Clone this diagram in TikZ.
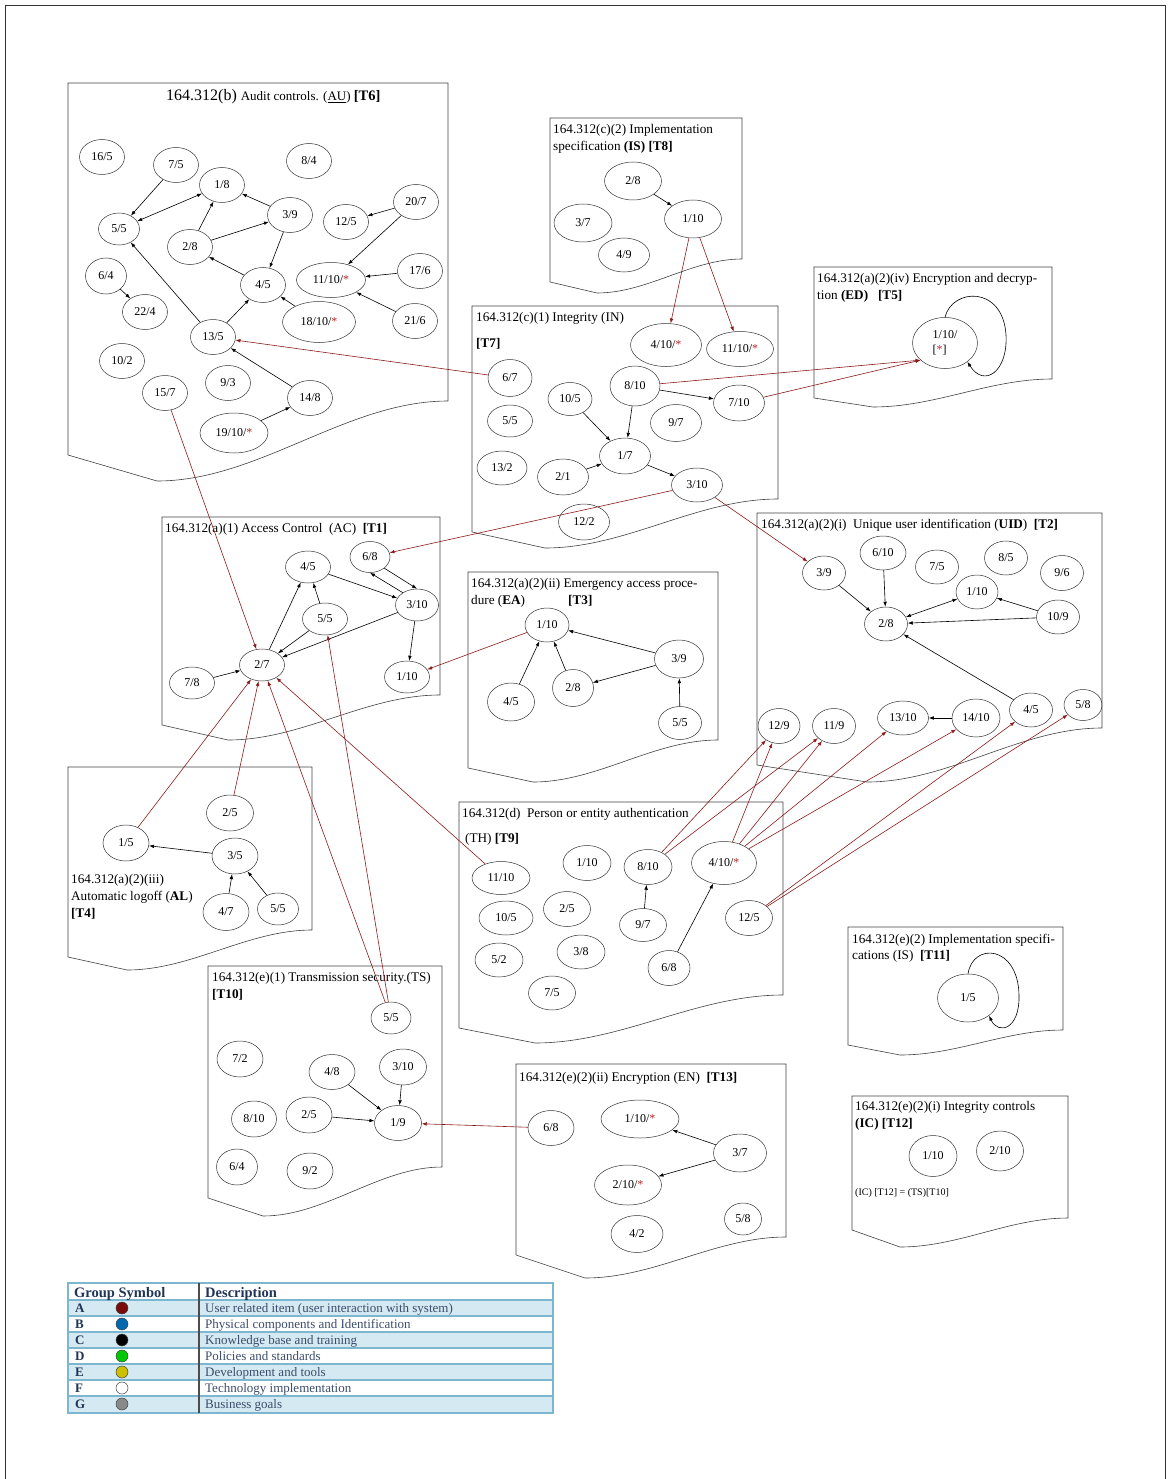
\documentclass[tikz,border=0pt]{standalone}
\usepackage{fontspec}
\setmainfont{Liberation Serif}
\usetikzlibrary{arrows.meta,shapes.geometric}

\definecolor{linkred}{HTML}{8B1A1A}
\definecolor{astred}{HTML}{B0282A}
\definecolor{rowblue}{HTML}{D4E9F1}
\definecolor{rulblue}{HTML}{7DB6CF}
\definecolor{navy}{HTML}{1F3557}
\definecolor{desc}{HTML}{3C4C6C}

% red asterisk used in node labels
\newcommand\rast{\textcolor{astred}{*}}
% framed area with a wavy lower edge: L, T, R, y right-bottom, y left-bottom, trough x, trough y
\newcommand\docbox[7]{\draw[boxline] (#1,#5) -- (#1,#2) -- (#3,#2) -- (#3,#4)
  .. controls ({#3-0.35*(#3-#6)},#4) and ({#6+0.35*(#3-#6)},#7) .. (#6,#7) -- cycle;}

\begin{document}
\begin{tikzpicture}[x=1pt,y=-1pt,
  nd/.style={draw=black!80, ellipse, inner sep=0pt, minimum width=45pt, minimum height=35pt,
             line width=0.5pt, font=\fontsize{12}{13}\selectfont},
  sz/.style 2 args={minimum width=#1pt, minimum height=#2pt},
  bl/.style={draw=black, line width=0.6pt, -{Latex[length=5pt,width=3.6pt]}},
  rl/.style={draw=linkred, line width=0.6pt, -{Latex[length=5pt,width=3.6pt]}},
  ttl/.style={anchor=base west, inner sep=0pt, font=\fontsize{13.2}{15}\selectfont},
  boxline/.style={draw=black!75, line width=0.6pt},
  lgl/.style={anchor=base west, inner sep=0pt, text=navy, font=\fontsize{13}{15}\selectfont\bfseries},
  lgd/.style={anchor=base west, inner sep=0pt, text=desc, font=\fontsize{13}{15}\selectfont},
  dot/.style={circle, draw=black!75, line width=0.5pt, minimum size=12pt, inner sep=0pt}]
\useasboundingbox (0,0) rectangle (1168,1479);

% page frame
\draw[black!80, line width=0.8pt] (5,1479) -- (5,5) -- (1165,5) -- (1165,1479);

% ---------------- framed areas ----------------
\docbox{68}{83}{448}{401}{455}{157}{481}
\docbox{550}{118}{742}{259}{282}{597}{293}
\docbox{814}{267}{1052}{379}{398}{873}{407}
\docbox{472}{306}{778}{499}{532}{545}{548}
\docbox{162}{517}{440}{695}{725}{228}{740}
\docbox{468}{572}{718}{740}{768}{533}{782}
\docbox{757}{513}{1102}{728}{765}{867}{782}
\docbox{68}{767}{312}{930}{957}{127}{970}
\docbox{459}{802}{783}{995}{1028}{535}{1043}
\docbox{208}{966}{442}{1167}{1198}{263}{1216}
\docbox{516}{1064}{786}{1237}{1255}{585}{1278}
\docbox{848}{927}{1063}{1030}{1045}{900}{1055}
\docbox{852}{1096}{1068}{1218}{1230}{900}{1247}

% ---------------- titles ----------------
\node[anchor=base west, inner sep=0pt] (t6title) at (166,101)
  {\fontsize{16}{18}\selectfont 164.312(b) \fontsize{13}{15}\selectfont Audit controls. (\underline{AU}) \fontsize{14.5}{17}\selectfont\textbf{[T6]}};
\node[ttl] (t8title1) at (553,133.5) {164.312(c)(2) Implementation};
\node[ttl] (t8title2) at (553,150.5) {specification \textbf{(IS) [T8]}};
\node[ttl] (t5title1) at (817,282.5) {164.312(a)(2)(iv) Encryption and decryp-};
\node[ttl] (t5title2) at (817,299.5) {tion \textbf{(ED)}\ \ \ \textbf{[T5]}};
\node[ttl] (t7title1) at (476,321.5) {164.312(c)(1) Integrity (IN)};
\node[ttl] (t7title2) at (476,347.5) {\textbf{[T7]}};
\node[ttl] (t1title) at (165,532.5) {164.312(a)(1) Access Control\ \ (AC)\ \ \textbf{[T1]}};
\node[ttl] (t3title1) at (471,587.5) {164.312(a)(2)(ii) Emergency access proce-};
\node[ttl] (t3title2) at (471,604.5) {dure (\textbf{EA})};
\node[ttl] (t3title3) at (568,604.5) {\textbf{[T3]}};
\node[ttl] (t2title) at (761,528.5) {164.312(a)(2)(i)\ \ Unique user identification (\textbf{UID})\ \ \textbf{[T2]}};
\node[ttl] (t4title1) at (71,883.5) {164.312(a)(2)(iii)};
\node[ttl] (t4title2) at (71,900.5) {Automatic logoff (\textbf{AL})};
\node[ttl] (t4title3) at (71,917.5) {\textbf{[T4]}};
\node[ttl] (t9title1) at (462,817.5) {164.312(d)\ \ Person or entity authentication};
\node[ttl] (t9title2) at (465,842.5) {(TH) \textbf{[T9]}};
\node[ttl] (t10title1) at (212,981.5) {164.312(e)(1) Transmission security.(TS)};
\node[ttl] (t10title2) at (212,998.5) {\textbf{[T10]}};
\node[ttl] (t11title1) at (852,943.5) {164.312(e)(2) Implementation specifi-};
\node[ttl] (t11title2) at (852,959.5) {cations (IS)\ \ \textbf{[T11]}};
\node[ttl] (t13title) at (519,1081.5) {164.312(e)(2)(ii) Encryption (EN)\ \ \textbf{[T13]}};
\node[ttl] (t12title1) at (855,1110.5) {164.312(e)(2)(i) Integrity controls};
\node[ttl] (t12title2) at (855,1127.5) {\textbf{(IC) [T12]}};
\node[anchor=base west, inner sep=0pt, font=\fontsize{10}{12}\selectfont] (t12note) at (855,1195) {(IC) [T12] = (TS)[T10]};

% ---------------- T6: audit controls ----------------
\node[nd] (t6-16-5) at (102,157) {16/5};
\node[nd] (t6-7-5) at (176,165) {7/5};
\node[nd] (t6-1-8) at (222,185) {1/8};
\node[nd] (t6-8-4) at (309,161) {8/4};
\node[nd, sz={41}{32}] (t6-5-5) at (119,229) {5/5};
\node[nd] (t6-3-9) at (290,215) {3/9};
\node[nd] (t6-20-7) at (416,202) {20/7};
\node[nd] (t6-12-5) at (346,222) {12/5};
\node[nd] (t6-2-8) at (190,247) {2/8};
\node[nd] (t6-4-5) at (263,285) {4/5};
\node[nd, sz={69}{35}] (t6-11-10) at (331,280) {11/10/\rast};
\node[nd] (t6-17-6) at (420,271) {17/6};
\node[nd, sz={41}{36}] (t6-6-4) at (106,276) {6/4};
\node[nd] (t6-22-4) at (145,312) {22/4};
\node[nd, sz={73}{41}] (t6-18-10) at (319,322) {18/10/\rast};
\node[nd] (t6-21-6) at (415,321) {21/6};
\node[nd] (t6-13-5) at (213,337) {13/5};
\node[nd] (t6-10-2) at (122,361) {10/2};
\node[nd] (t6-9-3) at (228,383) {9/3};
\node[nd] (t6-15-7) at (165,393) {15/7};
\node[nd] (t6-14-8) at (310,398) {14/8};
\node[nd, sz={68}{40}] (t6-19-10) at (234,433) {19/10/\rast};

\draw[bl] (t6-7-5) -- (t6-5-5);
\draw[bl, {Latex[length=5pt,width=3.6pt]}-{Latex[length=5pt,width=3.6pt]}] (t6-5-5) -- (t6-1-8);
\draw[bl] (t6-3-9) -- (t6-1-8);
\draw[bl] (t6-2-8) -- (t6-1-8);
\draw[bl] (t6-2-8) -- (t6-3-9);
\draw[bl] (t6-3-9) -- (t6-4-5);
\draw[bl] (t6-4-5) -- (t6-2-8);
\draw[bl] (t6-13-5) -- (t6-5-5);
\draw[bl] (t6-13-5) -- (t6-4-5);
\draw[bl] (t6-18-10) -- (t6-4-5);
\draw[bl] (t6-14-8) -- (t6-13-5);
\draw[bl] (t6-19-10) -- (t6-14-8);
\draw[bl] (t6-6-4) -- (t6-22-4);
\draw[bl] (t6-20-7) -- (t6-12-5);
\draw[bl] (t6-20-7) -- (t6-11-10);
\draw[bl] (t6-17-6) -- (t6-11-10);
\draw[bl] (t6-21-6) -- (t6-11-10);

% ---------------- T8 ----------------
\node[nd, sz={57}{38}] (t8-2-8) at (633,181) {2/8};
\node[nd, sz={58}{38}] (t8-3-7) at (583,223) {3/7};
\node[nd, sz={57}{38}] (t8-1-10) at (693,219) {1/10};
\node[nd, sz={51}{34}] (t8-4-9) at (624,255) {4/9};
\draw[bl] (t8-2-8) -- (t8-1-10);

% ---------------- T5 ----------------
\node[nd, sz={65}{51}, align=left, font=\fontsize{12}{15}\selectfont] (t5-1-10) at (945,343) {1/10/\\{[}\rast{]}};
\draw[bl] (t5-1-10.90) .. controls (952,288) and (1003,285) .. (1006,335)
  .. controls (1008,372) and (984,388) .. (t5-1-10.-40);

% ---------------- T7 ----------------
\node[nd, sz={71}{43}] (t7-4-10) at (666,345) {4/10/\rast};
\node[nd, sz={67}{35}] (t7-11-10) at (740,349) {11/10/\rast};
\node[nd, sz={44}{37}] (t7-6-7) at (510,378) {6/7};
\node[nd, sz={50}{40}] (t7-8-10) at (635,386) {8/10};
\node[nd, sz={44}{33}] (t7-10-5) at (570,399) {10/5};
\node[nd, sz={51}{36}] (t7-7-10) at (739,403) {7/10};
\node[nd, sz={45}{32}] (t7-5-5) at (510,421) {5/5};
\node[nd, sz={51}{37}] (t7-9-7) at (676,423) {9/7};
\node[nd, sz={51}{36}] (t7-1-7) at (625,456) {1/7};
\node[nd, sz={50}{34}] (t7-13-2) at (502,468) {13/2};
\node[nd, sz={51}{36}] (t7-2-1) at (563,477) {2/1};
\node[nd, sz={51}{34}] (t7-3-10) at (697,485) {3/10};
\node[nd, sz={51}{36}] (t7-12-2) at (584,522) {12/2};
\draw[bl] (t7-8-10) -- (t7-7-10);
\draw[bl] (t7-10-5) -- (t7-1-7);
\draw[bl] (t7-8-10) -- (t7-1-7);
\draw[bl] (t7-2-1) -- (t7-1-7);
\draw[bl] (t7-1-7) -- (t7-3-10);

% ---------------- T1 ----------------
\node[nd, sz={40}{31}] (t1-6-8) at (370,557) {6/8};
\node[nd, sz={45}{32}] (t1-4-5) at (308,567) {4/5};
\node[nd, sz={43}{32}] (t1-3-10) at (417,605) {3/10};
\node[nd, sz={45}{32}] (t1-5-5) at (325,619) {5/5};
\node[nd, sz={45}{32}] (t1-2-7) at (262,665) {2/7};
\node[nd, sz={45}{32}] (t1-1-10) at (407,677) {1/10};
\node[nd, sz={45}{32}] (t1-7-8) at (192,683) {7/8};
\draw[bl] (t1-4-5) -- (t1-3-10);
\draw[bl] (t1-6-8.-38) -- (t1-3-10.90);
\draw[bl] (t1-3-10.139) -- (t1-6-8.-90);
\draw[bl] (t1-2-7) -- (t1-4-5);
\draw[bl] (t1-5-5) -- (t1-4-5);
\draw[bl] (t1-5-5) -- (t1-2-7);
\draw[bl] (t1-3-10) -- (t1-2-7);
\draw[bl] (t1-3-10) -- (t1-1-10);
\draw[bl] (t1-7-8) -- (t1-2-7);

% ---------------- T3 ----------------
\node[nd, sz={44}{34}] (t3-1-10) at (547,625) {1/10};
\node[nd, sz={49}{38}] (t3-3-9) at (679,659) {3/9};
\node[nd, sz={41}{37}] (t3-2-8) at (573,688) {2/8};
\node[nd, sz={47}{38}] (t3-4-5) at (511,702) {4/5};
\node[nd, sz={43}{33}] (t3-5-5) at (680,723) {5/5};
\draw[bl] (t3-4-5) -- (t3-1-10);
\draw[bl] (t3-2-8) -- (t3-1-10);
\draw[bl] (t3-3-9) -- (t3-1-10);
\draw[bl] (t3-3-9) -- (t3-2-8);
\draw[bl] (t3-5-5) -- (t3-3-9);

% ---------------- T2 ----------------
\node[nd, sz={43}{34}] (t2-3-9) at (824,573) {3/9};
\node[nd, sz={46}{34}] (t2-6-10) at (883,553) {6/10};
\node[nd, sz={43}{34}] (t2-7-5) at (937,567) {7/5};
\node[nd, sz={43}{34}] (t2-8-5) at (1006,558) {8/5};
\node[nd, sz={43}{35}] (t2-9-6) at (1062,573) {9/6};
\node[nd, sz={42}{34}] (t2-1-10) at (977,592) {1/10};
\node[nd, sz={43}{34}] (t2-10-9) at (1058,617) {10/9};
\node[nd, sz={43}{34}] (t2-2-8) at (886,624) {2/8};
\node[nd, sz={42}{35}] (t2-12-9) at (779,726) {12/9};
\node[nd, sz={43}{35}] (t2-11-9) at (834,726) {11/9};
\node[nd, sz={51}{34}] (t2-13-10) at (903,718) {13/10};
\node[nd, sz={48}{38}] (t2-14-10) at (976,718) {14/10};
\node[nd, sz={43}{34}] (t2-4-5) at (1031,710) {4/5};
\node[nd, sz={38}{31}] (t2-5-8) at (1083,705) {5/8};
\draw[bl] (t2-3-9) -- (t2-2-8);
\draw[bl] (t2-6-10) -- (t2-2-8);
\draw[bl, {Latex[length=5pt,width=3.6pt]}-{Latex[length=5pt,width=3.6pt]}] (t2-2-8) -- (t2-1-10);
\draw[bl] (t2-10-9) -- (t2-1-10);
\draw[bl] (t2-10-9) -- (t2-2-8);
\draw[bl] (t2-4-5) -- (t2-2-8);
\draw[bl] (t2-14-10) -- (t2-13-10);

% ---------------- T4 ----------------
\node[nd, sz={47}{36}] (t4-2-5) at (230,813) {2/5};
\node[nd, sz={46}{36}] (t4-1-5) at (126,843) {1/5};
\node[nd, sz={46}{36}] (t4-3-5) at (235,856) {3/5};
\node[nd, sz={46}{37}] (t4-4-7) at (226,912) {4/7};
\node[nd, sz={41}{32}] (t4-5-5) at (278,909) {5/5};
\draw[bl] (t4-3-5) -- (t4-1-5);
\draw[bl] (t4-4-7) -- (t4-3-5);
\draw[bl] (t4-5-5) -- (t4-3-5);

% ---------------- T9 ----------------
\node[nd, sz={48}{35}] (t9-1-10) at (587,863) {1/10};
\node[nd, sz={48}{35}] (t9-8-10) at (648,867) {8/10};
\node[nd, sz={65}{43}] (t9-4-10) at (724,863) {4/10/\rast};
\node[nd, sz={58}{33}] (t9-11-10) at (501,878) {11/10};
\node[nd, sz={47}{35}] (t9-2-5) at (567,909) {2/5};
\node[nd, sz={54}{34}] (t9-10-5) at (506,918) {10/5};
\node[nd, sz={47}{33}] (t9-9-7) at (643,925) {9/7};
\node[nd, sz={47}{35}] (t9-12-5) at (749,918) {12/5};
\node[nd, sz={48}{34}] (t9-3-8) at (581,952) {3/8};
\node[nd, sz={48}{34}] (t9-5-2) at (499,960) {5/2};
\node[nd, sz={42}{35}] (t9-6-8) at (669,968) {6/8};
\node[nd, sz={47}{34}] (t9-7-5) at (552,993) {7/5};
\draw[bl] (t9-9-7) -- (t9-8-10);
\draw[bl] (t9-6-8) -- (t9-4-10);

% ---------------- T10 ----------------
\node[nd, sz={40}{32}] (t10-5-5) at (391,1018) {5/5};
\node[nd, sz={46}{36}] (t10-7-2) at (240,1059) {7/2};
\node[nd, sz={46}{35}] (t10-4-8) at (332,1072) {4/8};
\node[nd, sz={47}{36}] (t10-3-10) at (403,1067) {3/10};
\node[nd, sz={45}{36}] (t10-8-10) at (254,1119) {8/10};
\node[nd, sz={46}{36}] (t10-2-5) at (309,1115) {2/5};
\node[nd, sz={47}{35}] (t10-1-9) at (398,1123) {1/9};
\node[nd, sz={41}{36}] (t10-6-4) at (237,1167) {6/4};
\node[nd, sz={46}{36}] (t10-9-2) at (310,1171) {9/2};
\draw[bl] (t10-4-8) -- (t10-1-9);
\draw[bl] (t10-3-10) -- (t10-1-9);
\draw[bl] (t10-2-5) -- (t10-1-9);

% ---------------- T13 ----------------
\node[nd, sz={46}{35}] (t13-6-8) at (551,1128) {6/8};
\node[nd, sz={78}{38}] (t13-1-10) at (640,1119) {1/10/\rast};
\node[nd, sz={53}{38}] (t13-3-7) at (740,1153) {3/7};
\node[nd, sz={67}{40}] (t13-2-10) at (628,1185) {2/10/\rast};
\node[nd, sz={52}{37}] (t13-4-2) at (637,1234) {4/2};
\node[nd, sz={37}{32}] (t13-5-8) at (743,1219) {5/8};
\draw[bl] (t13-3-7) -- (t13-1-10);
\draw[bl] (t13-3-7) -- (t13-2-10);

% ---------------- T11 ----------------
\node[nd, sz={61}{48}] (t11-1-5) at (968,998) {1/5};
\draw[bl] (t11-1-5.90) .. controls (973,942) and (1018,945) .. (1019,995)
  .. controls (1020,1030) and (998,1035) .. (t11-1-5.-40);

% ---------------- T12 ----------------
\node[nd, sz={48}{41}] (t12-1-10) at (933,1156) {1/10};
\node[nd, sz={47}{40}] (t12-2-10) at (1000,1151) {2/10};

% ---------------- links between areas ----------------
\draw[rl] (t8-1-10) -- (t7-4-10);
\draw[rl] (t8-1-10) -- (t7-11-10);
\draw[rl] (t7-8-10) -- (t5-1-10.215);
\draw[rl] (t7-7-10) -- (t5-1-10.215);
\draw[rl] (t7-6-7) -- (t6-13-5);
\draw[rl] (t6-15-7) -- (t1-2-7);
\draw[rl] (t7-3-10) -- (t1-6-8);
\draw[rl] (t7-3-10) -- (t2-3-9);
\draw[rl] (t3-1-10) -- (t1-1-10);
\draw[rl] (t4-1-5) -- (t1-2-7);
\draw[rl] (t4-2-5) -- (t1-2-7);
\draw[rl] (t9-11-10) -- (t1-2-7);
\draw[rl] (t10-5-5) -- (t1-2-7);
\draw[rl] (t10-5-5) -- (t1-5-5);
\draw[rl] (t13-6-8) -- (t10-1-9);
\draw[rl] (t9-8-10) -- (t2-12-9);
\draw[rl] (t9-8-10) -- (t2-11-9);
\draw[rl] (t9-4-10) -- (t2-12-9);
\draw[rl] (t9-4-10) -- (t2-11-9);
\draw[rl] (t9-4-10) -- (t2-13-10);
\draw[rl] (t9-4-10) -- (t2-14-10);
\draw[rl] (t9-12-5) -- (t2-4-5);
\draw[rl] (t9-12-5) -- (t2-5-8);

% ---------------- legend table ----------------
\fill[rowblue] (68,1300) rectangle (553,1316);
\fill[rowblue] (68,1332) rectangle (553,1348);
\fill[rowblue] (68,1364) rectangle (553,1380);
\fill[rowblue] (68,1396) rectangle (553,1413);
\foreach \yy in {1300,1316,1332,1348,1364,1380,1396}
  \draw[rulblue, line width=1.2pt] (68,\yy) -- (553,\yy);
\draw[rulblue, line width=1.5pt] (68,1283) rectangle (553,1413);
\draw[black!70, line width=1.2pt] (199,1283) -- (199,1413);

\node[anchor=base west, inner sep=0pt, text=navy, font=\fontsize{14.5}{16}\selectfont\bfseries] (lghead1) at (74,1297) {Group Symbol};
\node[anchor=base west, inner sep=0pt, text=navy, font=\fontsize{14.5}{16}\selectfont\bfseries] (lghead2) at (205,1297) {Description};

\node[lgl] (lgAl) at (75,1312.5) {A};
\node[lgl] (lgBl) at (75,1328.5) {B};
\node[lgl] (lgCl) at (75,1344.5) {C};
\node[lgl] (lgDl) at (75,1360.5) {D};
\node[lgl] (lgEl) at (75,1376.5) {E};
\node[lgl] (lgFl) at (75,1392.5) {F};
\node[lgl] (lgGl) at (75,1408.5) {G};

\node[dot, fill={rgb,255:red,123;green,10;blue,10}] (lgA) at (122,1308) {};
\node[dot, fill={rgb,255:red,0;green,104;blue,176}] (lgB) at (122,1324) {};
\node[dot, fill=black] (lgC) at (122,1340) {};
\node[dot, fill={rgb,255:red,0;green,200;blue,0}] (lgD) at (122,1356) {};
\node[dot, fill={rgb,255:red,204;green,192;blue,0}] (lgE) at (122,1372) {};
\node[dot, fill=white] (lgF) at (122,1388) {};
\node[dot, fill={rgb,255:red,138;green,138;blue,138}] (lgG) at (122,1404) {};

\node[lgd] (lgAd) at (205,1312.5) {User related item (user interaction with system)};
\node[lgd] (lgBd) at (205,1328.5) {Physical components and Identification};
\node[lgd] (lgCd) at (205,1344.5) {Knowledge base and training};
\node[lgd] (lgDd) at (205,1360.5) {Policies and standards};
\node[lgd] (lgEd) at (205,1376.5) {Development and tools};
\node[lgd] (lgFd) at (205,1392.5) {Technology implementation};
\node[lgd] (lgGd) at (205,1408.5) {Business goals};
\end{tikzpicture}
\end{document}
